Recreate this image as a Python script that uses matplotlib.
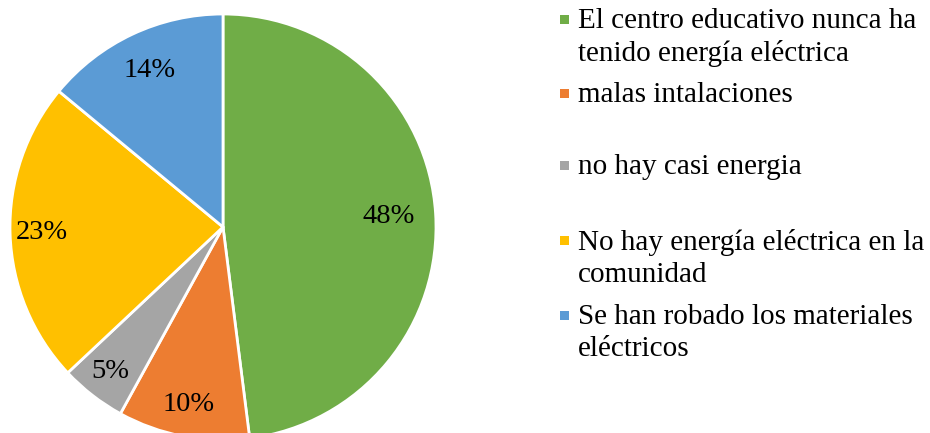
import numpy as np
import matplotlib.pyplot as plt
from matplotlib.patches import Rectangle

labels = [
    "El centro educativo nunca ha\ntenido energía eléctrica",
    "malas intalaciones",
    "no hay casi energia",
    "No hay energía eléctrica en la\ncomunidad",
    "Se han robado los materiales\neléctricos",
]
values = [48, 10, 5, 23, 14]
colors = ["#70AD47", "#ED7D31", "#A5A5A5", "#FFC000", "#5B9BD5"]

W, H = 930, 433
plt.rcParams["font.family"] = ["Liberation Serif", "DejaVu Serif"]

fig = plt.figure(figsize=(W / 100, H / 100), dpi=100)

# pie: centre (223, 227) px from top-left, radius 213 px
cx, cy, r = 223, 227, 213
ax = fig.add_axes([(cx - r) / W, (H - cy - r) / H, 2 * r / W, 2 * r / H])
wedges, texts, autotexts = ax.pie(
    values, colors=colors, startangle=90, counterclock=False,
    autopct="%1.0f%%", pctdistance=0.85,
    wedgeprops=dict(edgecolor="white", linewidth=2),
    textprops=dict(fontsize=20.5, color="black"),
)
# excel puts the big slice's label a bit further in
label_dist = [0.78, 0.85, 0.86, 0.85, 0.81]
for w, t, d in zip(wedges, autotexts, label_dist):
    w.set_clip_on(False)
    ang = np.deg2rad((w.theta1 + w.theta2) / 2)
    t.set_position((d * np.cos(ang), d * np.sin(ang)))
ax.set_xlim(-1, 1)
ax.set_ylim(-1, 1)
ax.set_aspect("auto")
ax.axis("off")

# legend drawn by hand so entries keep Excel's even pitch
entry_y = [22, 96, 168, 243, 318]
for lab, col, y in zip(labels, colors, entry_y):
    fig.add_artist(Rectangle((560 / W, 1 - (y + 2) / H), 9 / W, 9 / H,
                             facecolor=col, edgecolor="none",
                             transform=fig.transFigure))
    fig.text(578 / W, 1 - (y - 13.5) / H, lab, fontsize=21, va="top",
             ha="left", linespacing=1.27)

fig.savefig("out.png", dpi=100)
